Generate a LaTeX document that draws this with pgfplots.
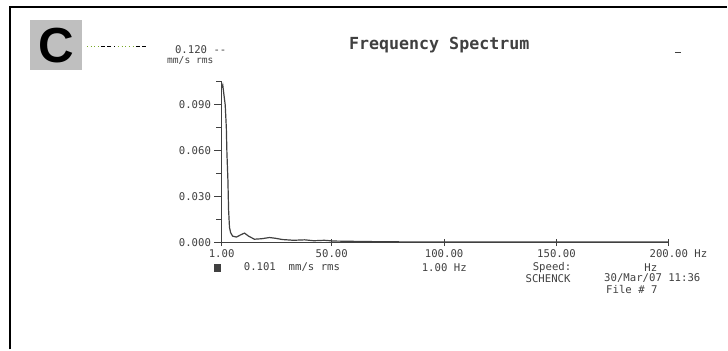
\documentclass[border=0pt]{standalone}
\usepackage{pgfplots}
\pgfplotsset{compat=1.18}
\usepackage{fontspec}
\setmainfont{Liberation Sans}
\setmonofont{DejaVu Sans Mono}
\definecolor{ink}{gray}{0.25}
\definecolor{dotgreen}{RGB}{120,170,40}
\begin{document}
\begin{tikzpicture}[x=0.75pt,y=-0.75pt]
\path[fill=white] (0,0) rectangle (728,350);
\draw[line width=1.9pt,black] (10,350) -- (10,7) -- (728,7);
\fill[black!25] (30,20) rectangle (82,70);
\node[font=\fontsize{37}{37}\selectfont\bfseries,inner sep=0pt] at (56,46) {C};
\draw[dotgreen,line width=0.8pt,dotted] (87,47) -- (100,47);
\draw[black,line width=0.8pt,densely dashed] (101,47) -- (115,47);
\draw[dotgreen,line width=0.8pt,dotted] (118,47) -- (133,47);
\draw[black,line width=0.8pt,densely dashed] (136,47) -- (148,47);
\node[font=\ttfamily\bfseries\fontsize{12.5}{13}\selectfont,text=ink] at (440,45) {Frequency Spectrum};
\draw[ink,line width=0.8pt] (676,53) -- (682,53);
\begin{axis}[at={(166.5pt,-182.25pt)}, anchor=south west, scale only axis,
  width=336pt, height=120.75pt,
  xmin=1, xmax=200, ymin=0, ymax=0.105,
  axis x line=bottom, axis y line=left,
  axis line style={-, ink, line width=0.6pt},
  xtick={1,50,100,150,200},
  xticklabels={1.00,50.00,100.00,150.00,200.00\rlap{ Hz}},
  ytick={0,0.03,0.06,0.09},
  yticklabels={0.000,0.030,0.060,0.090},
  minor ytick={0.015,0.045,0.075,0.105},
  tick align=outside, major tick length=5.5pt, minor tick length=4pt,
  x tick style={ink, line width=0.8pt, yshift=2.75pt},
  y tick style={ink, line width=0.6pt},
  ticklabel style={font=\ttfamily\fontsize{8}{9}\selectfont, text=ink},
  xticklabel style={yshift=4pt},
  yticklabel style={xshift=1pt},
  clip=false,
]
\addplot[ink, line width=0.9pt] coordinates {
(1,0.101) (1.5,0.103) (2.0,0.097) (2.6,0.090) (3.1,0.075) (3.35,0.059)
(3.8,0.041) (4.1,0.0215) (4.5,0.010) (5.0,0.0065) (5.9,0.0042) (7.6,0.0036)
(9.4,0.0050) (11.2,0.0062) (13,0.0042) (15.6,0.0022) (18.7,0.0025)
(22.3,0.0033) (25,0.0028) (28,0.0020) (33,0.0015) (38,0.0018) (42,0.0012)
(46.7,0.0015) (51,0.0010) (60,0.0008) (75,0.0005) (100,0.0004) (150,0.0004) (200,0.0004)};
\end{axis}
\node[anchor=east,font=\ttfamily\fontsize{8}{9}\selectfont,text=ink,inner sep=0pt] at (227,50) {0.120 --};
\node[anchor=east,font=\ttfamily\fontsize{7.2}{8}\selectfont,text=ink,inner sep=0pt] at (214,61) {mm/s rms};
\node[anchor=center,inner sep=0pt,text=ink] at (218,268) {\rule{5pt}{6pt}};
\node[anchor=west,font=\ttfamily\fontsize{8}{9}\selectfont,text=ink,inner sep=0pt] at (244,268) {0.101 \ mm/s rms};
\node[font=\ttfamily\fontsize{8}{9}\selectfont,text=ink,inner sep=0pt] at (445,268) {1.00 Hz};
\node[font=\ttfamily\fontsize{8}{9}\selectfont,text=ink,inner sep=0pt] at (553,268) {Speed:};
\node[font=\ttfamily\fontsize{8}{9}\selectfont,text=ink,inner sep=0pt] at (549,279) {SCHENCK};
\node[font=\ttfamily\fontsize{8}{9}\selectfont,text=ink,inner sep=0pt] at (652,268) {Hz};
\node[anchor=west,font=\ttfamily\fontsize{8}{9}\selectfont,text=ink,inner sep=0pt] at (605,279) {30/Mar/07 11:36};
\node[anchor=west,font=\ttfamily\fontsize{8}{9}\selectfont,text=ink,inner sep=0pt] at (607,290) {File \# 7};
\end{tikzpicture}
\end{document}
